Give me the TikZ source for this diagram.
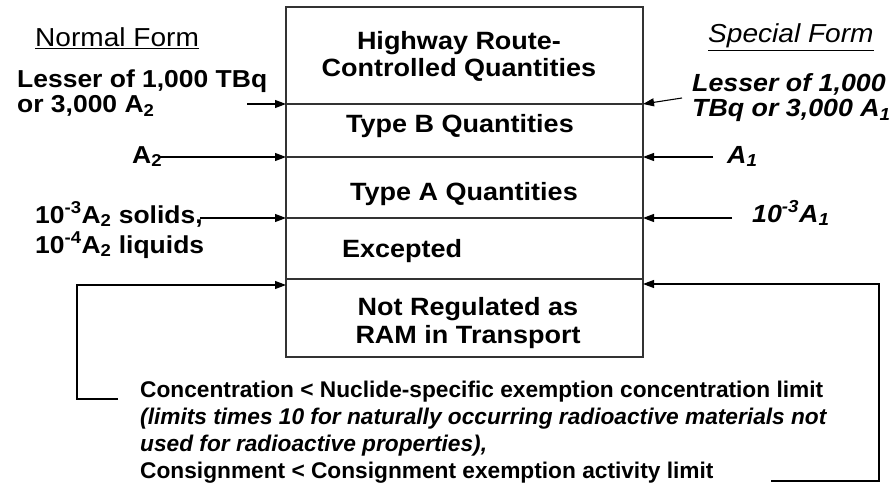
\documentclass[tikz,border=0pt]{standalone}
\usepackage{fontspec}
\setmainfont{Liberation Sans}[FakeStretch=1.08]
\newfontfamily\notefont{Liberation Sans}
\usetikzlibrary{arrows.meta}

\tikzset{
  boxtext/.style={font=\bfseries\fontsize{25}{27.5}\selectfont, align=center, anchor=base, inner sep=0pt},
  sidetext/.style={font=\bfseries\fontsize{24.5}{25}\selectfont, align=left, anchor=base west, inner sep=0pt},
  formtext/.style={sidetext, font=\bfseries\itshape\fontsize{24.8}{25}\selectfont},
  headtext/.style={anchor=base west, inner sep=0pt},
  notetext/.style={font=\notefont\bfseries\fontsize{22.7}{27}\selectfont, align=left, anchor=base west, inner sep=0pt},
  limitarrow/.style={-{Triangle[length=11pt,width=8pt]}, line width=1.1pt},
  cellrule/.style={line width=1.1pt, black!80}
}

\begin{document}
\begin{tikzpicture}[x=1pt, y=-1pt]
    \useasboundingbox (0,0) rectangle (892,495);

    \coordinate (tl) at (286,7);
    \coordinate (br) at (643,357);
    \draw[cellrule] (tl) rectangle (br);
    \foreach \y [count=\i] in {104,157,218,279} {
        \coordinate (w\i) at (286,\y);
        \coordinate (e\i) at (643,\y);
        \draw[cellrule] (w\i) -- (e\i);
    }

    \node[boxtext] (hrcq) at (459,77) {Highway Route-\\Controlled Quantities};
    \node[boxtext] (typeb) at (460,132) {Type B Quantities};
    \node[boxtext] (typea) at (464,200) {Type A Quantities};
    \node[boxtext, anchor=base west] (excepted) at (342,257) {Excepted};
    \node[boxtext, font=\bfseries\fontsize{25}{28}\selectfont] (notreg) at (468,343) {Not Regulated as\\RAM in Transport};

    \node[headtext, font=\fontsize{26}{28}\selectfont] (normal) at (35,47) {\underline{Normal Form}};
    \node[sidetext] (nlesser) at (17,113) {Lesser of 1,000 TBq\\or 3,000 A\textsubscript{2}};
    \node[sidetext] (na2) at (132,163) {A\textsubscript{2}};
    \node[sidetext, font=\bfseries\fontsize{24.5}{30}\selectfont] (nsmall) at (35,253) {10\textsuperscript{-3}A\textsubscript{2} solids,\\10\textsuperscript{-4}A\textsubscript{2} liquids};

    \node[headtext, font=\itshape\fontsize{26}{28}\selectfont] (special) at (708,43) {\underline{Special Form}};
    \node[formtext] (slesser) at (692,117) {Lesser of 1,000\\TBq or 3,000 A\textsubscript{1}};
    \node[formtext] (sa1) at (727,163) {A\textsubscript{1}};
    \node[formtext] (ssmall) at (752,222) {10\textsuperscript{-3}A\textsubscript{1}};

    \node[notetext] (note) at (140,478) {Concentration < Nuclide-specific exemption concentration limit\\\textit{(limits times 10 for naturally occurring radioactive materials not}\\\textit{used for radioactive properties),}\\Consignment < Consignment exemption activity limit};

    \coordinate (a1) at (247,104);
    \coordinate (a2) at (160,157);
    \coordinate (a3) at (200,218);
    \coordinate (b1) at (682,98);
    \coordinate (b2) at (713,157);
    \coordinate (b3) at (732,218);
    \coordinate (c1) at (118,399);
    \coordinate (c2) at (286,285);
    \coordinate (d1) at (771,481);
    \coordinate (d2) at (643,284);

    \draw[limitarrow] (a1) -- (w1);
    \draw[limitarrow] (a2) -- (w2);
    \draw[limitarrow] (a3) -- (w3);
    \draw[limitarrow] (b1) -- (e1);
    \draw[limitarrow] (b2) -- (e2);
    \draw[limitarrow] (b3) -- (e3);
    \draw[limitarrow] (c1) -- ++(-41,0) |- (c2);
    \draw[limitarrow] (d1) -- ++(108,0) |- (d2);
\end{tikzpicture}
\end{document}
